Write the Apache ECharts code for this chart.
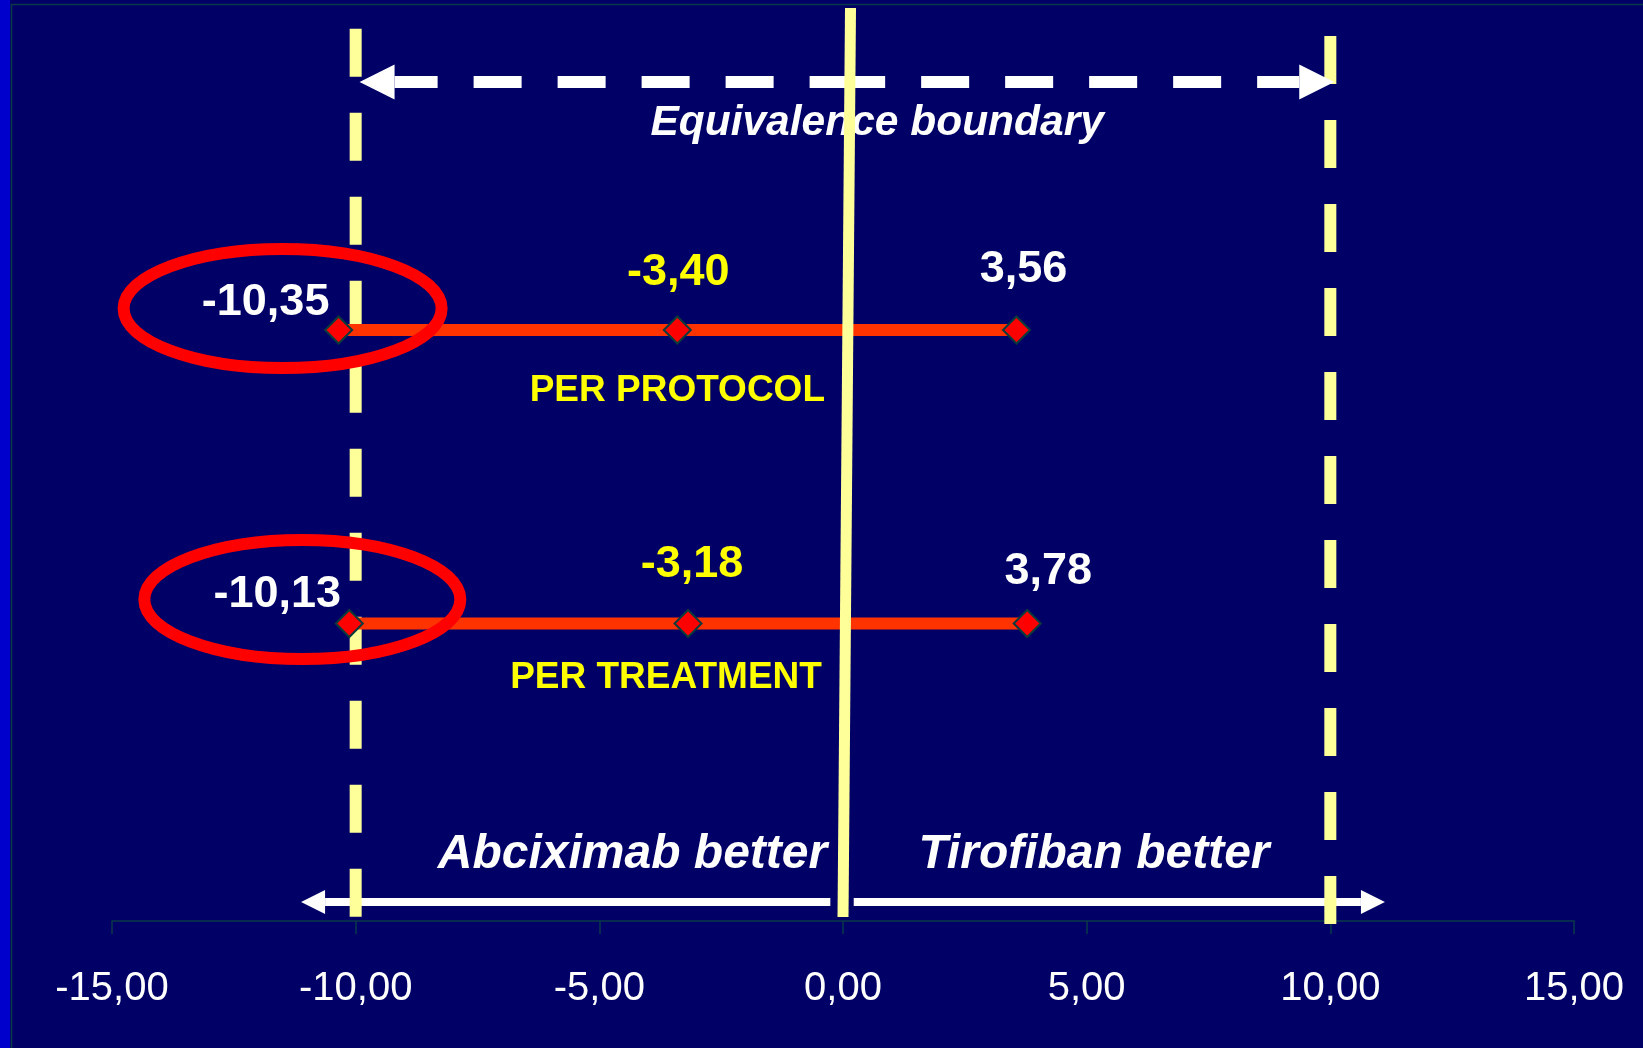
<!DOCTYPE html>
<html>
<head>
<meta charset="utf-8">
<script src="https://cdn.jsdelivr.net/npm/echarts@6/dist/echarts.min.js"></script>
<style>
  html, body { margin: 0; padding: 0; background: #000066; }
  #chart { width: 1643px; height: 1048px; }
</style>
</head>
<body>
<div id="chart"></div>
<script>
// Risk difference (%) with its 95% confidence interval, per analysis population
const categories = ['PER PROTOCOL', 'PER TREATMENT'];
const lowerBound = [-10.35, -10.13];
const estimate = [-3.40, -3.18];
const upperBound = [3.56, 3.78];

// Horizontal axis ticks and the equivalence margin
const xTicks = [-15, -10, -5, 0, 5, 10, 15];
const equivalenceMargin = [-10, 10];

// Annotation texts
const boundaryTitle = 'Equivalence boundary';
const sideLabels = ['Abciximab better', 'Tirofiban better'];

// ---- styling / layout ----
const FONT = '"Liberation Sans", Arial, Helvetica, sans-serif';
const YELLOW_LINE = '#FFFF99';
const fmt = v => v.toFixed(2).replace('.', ',');
const rowPos = i => i + 1;               // rows sit at 1 and 2 on the hidden y axis
// label offsets (px) from each marker: [lower, estimate, upper]
const valueLabelOffsets = [
  [[-73, -27], [1, -57], [7, -60]],
  [[-72, -29], [4, -59], [21, -52]]
];
const valueLabelColors = ['#FFFFFF', '#FFFF00', '#FFFFFF'];
const rowNameOffsets = [[0, 61], [-22, 54]];

const intervalSeries = categories.map((name, i) => {
  const vals = [lowerBound[i], estimate[i], upperBound[i]];
  return {
    type: 'line',
    name: name,
    z: 2,
    data: vals.map((v, k) => ({
      value: [v, rowPos(i)],
      label: {
        offset: valueLabelOffsets[i][k],
        color: valueLabelColors[k]
      }
    })),
    symbol: 'diamond',
    symbolSize: 27,
    showAllSymbol: true,
    lineStyle: { color: '#FF3300', width: 12, cap: 'butt' },
    itemStyle: { color: '#FF0000', borderColor: '#0B3B3B', borderWidth: 2 },
    label: {
      show: true,
      position: 'inside',
      align: 'center',
      verticalAlign: 'middle',
      fontFamily: FONT,
      fontWeight: 'bold',
      fontSize: 45,
      formatter: p => fmt(p.value[0])
    },
    emphasis: { disabled: true },
    animation: false
  };
});

const rowNameSeries = {
  type: 'scatter',
  name: 'rows',
  z: 2,
  symbolSize: 1,
  itemStyle: { color: 'rgba(0,0,0,0)', opacity: 1 },
  data: categories.map((name, i) => ({
    value: [estimate[i], rowPos(i)],
    name: name,
    label: { offset: rowNameOffsets[i] }
  })),
  label: {
    show: true,
    position: 'inside',
    align: 'center',
    verticalAlign: 'middle',
    color: '#FFFF00',
    opacity: 1,
    fontFamily: FONT,
    fontWeight: 'bold',
    fontSize: 37,
    formatter: p => p.name
  },
  emphasis: { disabled: true },
  animation: false
};

const option = {
  backgroundColor: '#000066',
  animation: false,
  grid: { left: 112, right: 69, top: 36.5, bottom: 131, containLabel: false, outerBoundsMode: 'none' },
  xAxis: {
    type: 'value',
    min: xTicks[0],
    max: xTicks[xTicks.length - 1],
    interval: xTicks[1] - xTicks[0],
    offset: 4,
    axisLine: { show: true, onZero: false, lineStyle: { color: '#0A3A4A', width: 1.5 } },
    axisTick: { show: true, length: 13, lineStyle: { color: '#0A3A4A', width: 1.5 } },
    splitLine: { show: false },
    axisLabel: {
      color: '#FFFFFF',
      fontFamily: FONT,
      fontSize: 40,
      margin: 48,
      formatter: v => fmt(v)
    }
  },
  yAxis: {
    type: 'value',
    inverse: true,
    min: 0,
    max: 3,
    show: false
  },
  series: [...intervalSeries, rowNameSeries]
};

const chart = echarts.init(document.getElementById('chart'));
chart.setOption(option);

// ---- annotations, placed through the axes ----
const px = (x, y) => chart.convertToPixel({ gridIndex: 0 }, [x, y]);

function head(tipX, y, dir, len, half, z) {
  const t = px(tipX, y);
  return {
    type: 'polygon', z: z, silent: true,
    shape: { points: [[t[0], t[1]], [t[0] - dir * len, t[1] - half], [t[0] - dir * len, t[1] + half]] },
    style: { fill: '#FFFFFF' }
  };
}
function shaftToHead(fromX, tipX, y, dir, len, width, dash, z) {
  const a = px(fromX, y), t = px(tipX, y);
  return {
    type: 'line', z: z, silent: true,
    shape: { x1: a[0], y1: a[1], x2: t[0] - dir * len, y2: t[1] },
    style: { stroke: '#FFFFFF', lineWidth: width, lineDash: dash || null, lineCap: 'butt' }
  };
}
function label(text, x, y, size, z) {
  const p = px(x, y);
  return {
    type: 'text', z: z, silent: true,
    style: {
      text: text, x: p[0], y: p[1],
      align: 'center', verticalAlign: 'middle',
      fill: '#FFFFFF',
      font: 'italic bold ' + size + 'px ' + FONT
    }
  };
}

const g = [];

// slide frame: bright left edge and thin frame lines
g.push({ type: 'rect', z: 0, silent: true, shape: { x: 0, y: 0, width: 10, height: 1048 }, style: { fill: '#0000CC' } });
g.push({ type: 'polyline', z: 0, silent: true, shape: { points: [[11.5, 1048], [11.5, 4.5], [1643, 4.5]] },
  style: { stroke: '#0A3A4A', lineWidth: 1.5, fill: null } });

// bottom "better" arrows
const yBottomArrow = 2.949;
g.push(shaftToHead(-0.26, -11.12, yBottomArrow, -1, 24, 8, null, 1));
g.push(head(-11.12, yBottomArrow, -1, 24, 12, 1));
g.push(shaftToHead(0.22, 11.12, yBottomArrow, 1, 24, 8, null, 1));
g.push(head(11.12, yBottomArrow, 1, 24, 12, 1));

// equivalence boundaries (dashed verticals)
const boundarySpan = [[-0.026, 3.0], [-0.002, 3.024]];
equivalenceMargin.forEach((m, k) => {
  const a = px(m, boundarySpan[k][0]), b = px(m, boundarySpan[k][1]);
  g.push({
    type: 'line', z: 1, silent: true,
    shape: { x1: a[0], y1: a[1], x2: b[0], y2: b[1] },
    style: { stroke: YELLOW_LINE, lineWidth: 12, lineDash: [48, 36], lineCap: 'butt' }
  });
});

// top dashed double arrow between the boundaries
const yTopArrow = 0.155;
const topTips = [-9.92, 10.08];
g.push(shaftToHead(0.30, topTips[0], yTopArrow, -1, 35, 12, [48, 36], 3));
g.push(head(topTips[0], yTopArrow, -1, 35, 17.5, 3));
g.push(shaftToHead(-0.12, topTips[1], yTopArrow, 1, 35, 12, [48, 36], 3));
g.push(head(topTips[1], yTopArrow, 1, 35, 17.5, 3));

// annotation texts
g.push(label(boundaryTitle, 0.70, 0.296, 42.5, 3));
g.push(label(sideLabels[0], -4.32, 2.788, 48, 3));
g.push(label(sideLabels[1], 5.15, 2.788, 48, 3));

// line of no difference (drawn slightly leaning)
{
  const a = px(0.154, -0.097), b = px(0, 3.0);
  g.push({
    type: 'line', z: 4, silent: true,
    shape: { x1: a[0], y1: a[1], x2: b[0], y2: b[1] },
    style: { stroke: YELLOW_LINE, lineWidth: 11, lineCap: 'butt' }
  });
}

// highlight rings around the lower confidence limits
const ringOffsets = [[-56, -21.5], [-47, -24]];
const ringRadii = [[159, 59.5], [158, 59.5]];
lowerBound.forEach((v, i) => {
  const p = px(v, rowPos(i));
  g.push({
    type: 'ellipse', z: 5, silent: true,
    shape: { cx: p[0] + ringOffsets[i][0], cy: p[1] + ringOffsets[i][1], rx: ringRadii[i][0], ry: ringRadii[i][1] },
    style: { fill: null, stroke: '#FF0000', lineWidth: 12 }
  });
});

chart.setOption({ graphic: { elements: g } });
</script>
</body>
</html>
